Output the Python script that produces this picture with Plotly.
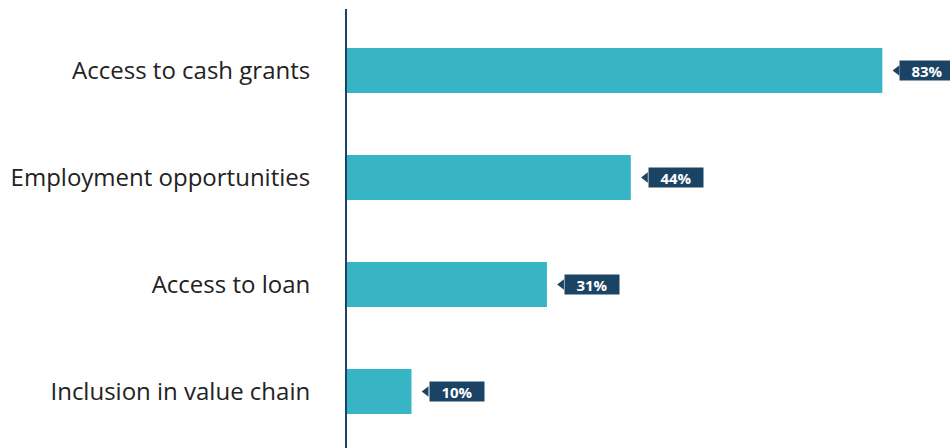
import plotly.graph_objects as go

categories = ["Access to cash grants", "Employment opportunities", "Access to loan", "Inclusion in value chain"]
values = [83, 44, 31, 10]
value_labels = ["83%", "44%", "31%", "10%"]

BAR_COLOR = "#38b5c4"
TAG_COLOR = "#1b4464"
TEXT_COLOR = "#222222"

positions = list(range(len(categories)))
px_per_unit = 6.45                 # horizontal scale of the value axis
pointer_off = 14.75 / px_per_unit  # pointer centre, right of the bar end
box_off = 17 / px_per_unit         # tag box left edge, right of the bar end

fig = go.Figure()
fig.add_trace(go.Bar(
    x=values, y=positions, orientation="h",
    marker=dict(color=BAR_COLOR, line=dict(width=0)),
    width=0.42, hoverinfo="skip",
))

# pointer triangles of the value tags
fig.add_trace(go.Scatter(
    x=[v + pointer_off for v in values], y=positions, mode="markers",
    marker=dict(symbol="triangle-left", size=9, color=TAG_COLOR, line=dict(width=0)),
    hoverinfo="skip", cliponaxis=False,
))

for v, p, t in zip(values, positions, value_labels):
    fig.add_annotation(
        x=v + box_off, y=p, xref="x", yref="y", text=f"<b>{t}</b>",
        showarrow=False, xanchor="left", yanchor="middle",
        width=54, height=19, align="center", valign="middle",
        bgcolor=TAG_COLOR, borderpad=0,
        font=dict(family="Open Sans", size=15, color="white"),
    )

plot_width = 950 - 347
fig.update_layout(
    width=950, height=448,
    margin=dict(l=347, r=0, t=9, b=0),
    paper_bgcolor="white", plot_bgcolor="white",
    showlegend=False,
    xaxis=dict(range=[0, plot_width / px_per_unit], visible=False, fixedrange=True),
    yaxis=dict(
        range=[3.528, -0.575],
        tickvals=positions, ticktext=categories,
        showgrid=False, zeroline=False,
        showline=True, linecolor=TAG_COLOR, linewidth=2,
        ticks="", ticklabelstandoff=30,
        tickfont=dict(family="Open Sans", size=24, color=TEXT_COLOR),
    ),
)

fig.write_html("out.html")
